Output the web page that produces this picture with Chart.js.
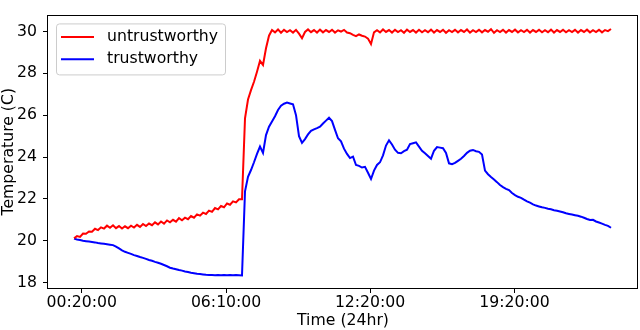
<!DOCTYPE html>
<html>
<head>
<meta charset="utf-8">
<script src="https://cdn.jsdelivr.net/npm/chart.js@4.4.1/dist/chart.umd.min.js"></script>
<style>
  body { margin: 0; background: #fff; }
  canvas { display: block; }
</style>
</head>
<body>
<canvas id="temp-chart" width="640" height="330"></canvas>
<script>
// Series labels
const seriesNames = ['untrustworthy', 'trustworthy'];

// Readings, one every sample (samples are evenly spaced on the x axis)
const untrustworthy = [
  20.12, 20.22, 20.18, 20.34, 20.33, 20.44, 20.43, 20.57, 20.51, 20.64,
  20.58, 20.72, 20.62, 20.74, 20.60, 20.70, 20.58, 20.69, 20.60, 20.72,
  20.63, 20.76, 20.66, 20.80, 20.70, 20.82, 20.74, 20.88, 20.78, 20.92,
  20.82, 20.97, 20.88, 21.00, 20.91, 21.08, 20.98, 21.10, 21.03, 21.18,
  21.10, 21.26, 21.20, 21.34, 21.28, 21.44, 21.38, 21.56, 21.50, 21.66,
  21.60, 21.78, 21.72, 21.88, 21.83, 21.98, 21.98, 25.85, 26.75, 27.20,
  27.60, 28.08, 28.60, 28.40, 29.20, 29.80, 30.07, 29.96, 30.10, 29.94,
  30.08, 29.97, 30.06, 29.95, 30.08, 29.90, 29.68, 29.98, 30.10, 29.97,
  30.07, 29.95, 30.09, 29.96, 30.07, 29.98, 30.08, 29.95, 30.06, 30.00,
  30.08, 29.95, 29.92, 29.84, 29.78, 29.86, 29.80, 29.76, 29.66, 29.40,
  29.96, 30.06, 29.96, 30.10, 29.98, 30.07, 29.95, 30.08, 29.97, 30.06,
  29.94, 30.09, 29.98, 30.07, 29.95, 30.08, 29.96, 30.06, 29.97, 30.09,
  29.95, 30.07, 29.98, 30.08, 29.94, 30.06, 29.97, 30.08, 29.96, 30.07,
  29.98, 30.10, 29.95, 30.06, 29.97, 30.08, 29.96, 30.07, 29.99, 30.11,
  29.94, 30.06, 29.97, 30.08, 29.95, 30.07, 29.98, 30.09, 29.96, 30.06,
  29.97, 30.08, 29.95, 30.07, 29.98, 30.08, 29.96, 30.06, 29.97, 30.09,
  29.95, 30.07, 29.98, 30.08, 29.96, 30.06, 29.97, 30.08, 29.95, 30.07,
  29.98, 30.09, 29.96, 30.06, 29.97, 30.08, 29.96, 30.07, 30.02, 30.12
];

const trustworthy = [
  20.10, 20.06, 20.03, 20.00, 19.98, 19.96, 19.94, 19.92, 19.89, 19.87,
  19.85, 19.83, 19.81, 19.79, 19.72, 19.63, 19.54, 19.47, 19.42, 19.37,
  19.31, 19.27, 19.22, 19.18, 19.13, 19.08, 19.04, 18.99, 18.95, 18.90,
  18.84, 18.78, 18.71, 18.67, 18.64, 18.60, 18.57, 18.53, 18.50, 18.47,
  18.45, 18.42, 18.41, 18.39, 18.37, 18.36, 18.36, 18.35, 18.36, 18.35,
  18.36, 18.35, 18.36, 18.35, 18.36, 18.35, 18.34, 22.36, 23.05, 23.38,
  23.75, 24.15, 24.50, 24.20, 25.05, 25.45, 25.70, 25.95, 26.25, 26.45,
  26.55, 26.60, 26.56, 26.52, 26.00, 25.00, 24.68, 24.86, 25.08, 25.25,
  25.32, 25.38, 25.45, 25.60, 25.74, 25.88, 25.72, 25.30, 24.90, 24.75,
  24.40, 24.15, 23.95, 24.02, 23.62, 23.58, 23.50, 23.53, 23.25, 22.95,
  23.35, 23.62, 23.75, 24.08, 24.55, 24.80, 24.60, 24.35, 24.20, 24.18,
  24.28, 24.35, 24.62, 24.66, 24.70, 24.50, 24.30, 24.18, 24.05, 23.92,
  24.30, 24.48, 24.45, 24.42, 24.20, 23.70, 23.66, 23.72, 23.82, 23.92,
  24.05, 24.20, 24.30, 24.34, 24.28, 24.25, 24.12, 23.35, 23.18, 23.05,
  22.93, 22.80, 22.66, 22.56, 22.48, 22.42, 22.28, 22.18, 22.10, 22.05,
  21.96, 21.88, 21.82, 21.74, 21.68, 21.64, 21.60, 21.57, 21.53, 21.50,
  21.46, 21.43, 21.40, 21.36, 21.31, 21.28, 21.25, 21.22, 21.19, 21.15,
  21.10, 21.04, 20.99, 21.00, 20.92, 20.87, 20.82, 20.76, 20.71, 20.62
];

// Time tick labels and the sample positions they sit on
const tickLabels = ['00:20:00', '06:10:00', '12:20:00', '19:20:00'];
const tickPos = [2.6, 50.7, 98.7, 146.8];
const yTicks = [18, 20, 22, 24, 26, 28, 30];

const FONT = "'DejaVu Sans', sans-serif";

function toPoints(values) {
  return values.map((v, i) => ({ x: i, y: v }));
}

// Box around the plot (all four sides)
const frame = {
  id: 'frame',
  afterDraw(chart) {
    const { ctx, chartArea: a } = chart;
    ctx.save();
    ctx.strokeStyle = '#000';
    ctx.lineWidth = 1;
    ctx.strokeRect(Math.round(a.left) - 0.5, Math.round(a.top) + 0.5,
      Math.round(a.right - a.left), Math.round(a.bottom - a.top));
    ctx.restore();
  }
};

// Legend drawn inside the plot, top left, matplotlib style
const insideLegend = {
  id: 'insideLegend',
  afterDraw(chart) {
    const { ctx, chartArea: a } = chart;
    const x0 = a.left + 8, y0 = a.top + 8, w = 169, h = 51, r = 3;
    ctx.save();
    ctx.fillStyle = 'rgba(255,255,255,0.8)';
    ctx.strokeStyle = '#cccccc';
    ctx.lineWidth = 1;
    ctx.beginPath();
    ctx.roundRect(x0 + 0.5, y0 + 0.5, w, h, r);
    ctx.fill();
    ctx.stroke();
    ctx.font = '15.7px ' + FONT;
    ctx.textBaseline = 'middle';
    chart.data.datasets.forEach((ds, k) => {
      const y = y0 + 13.5 + k * 22.4;
      ctx.strokeStyle = ds.borderColor;
      ctx.lineWidth = 2;
      ctx.beginPath();
      ctx.moveTo(x0 + 5, y);
      ctx.lineTo(x0 + 38, y);
      ctx.stroke();
      ctx.fillStyle = '#000';
      ctx.fillText(ds.label, x0 + 51, y);
    });
    ctx.restore();
  }
};

const ctx = document.getElementById('temp-chart').getContext('2d');
new Chart(ctx, {
  type: 'line',
  data: {
    datasets: [
      {
        label: seriesNames[0],
        data: toPoints(untrustworthy),
        borderColor: '#ff0000',
        borderWidth: 2,
        pointRadius: 0,
        tension: 0,
      },
      {
        label: seriesNames[1],
        data: toPoints(trustworthy),
        borderColor: '#0000ff',
        borderWidth: 2,
        pointRadius: 0,
        tension: 0,
      },
    ],
  },
  options: {
    responsive: false,
    animation: false,
    layout: { padding: { top: 2, right: 2, left: 0, bottom: 0 } },
    plugins: {
      legend: { display: false },
      tooltip: { enabled: false },
    },
    scales: {
      x: {
        type: 'linear',
        min: -8.67,
        max: 188,
        afterFit: (scale) => { scale.height = 42; },
        afterBuildTicks: (scale) => {
          scale.ticks = tickPos.map((v) => ({ value: v }));
        },
        grid: {
          drawOnChartArea: false,
          drawTicks: true,
          tickLength: 5,
          color: '#000',
        },
        border: { display: false },
        ticks: {
          color: '#000',
          font: { family: FONT, size: 15.7 },
          padding: 1,
          maxRotation: 0,
          autoSkip: false,
          callback: (value, index) => tickLabels[index],
        },
        title: {
          display: true,
          text: 'Time (24hr)',
          color: '#000',
          font: { family: FONT, size: 15.7 },
          padding: { top: 0, bottom: 0 },
        },
      },
      y: {
        min: 17.74,
        max: 30.77,
        afterFit: (scale) => { scale.width = 48; },
        afterBuildTicks: (scale) => {
          scale.ticks = yTicks.map((v) => ({ value: v }));
        },
        grid: {
          drawOnChartArea: false,
          drawTicks: true,
          tickLength: 5,
          color: '#000',
        },
        border: { display: false },
        ticks: {
          color: '#000',
          font: { family: FONT, size: 15.7 },
          padding: 6,
        },
        title: {
          display: true,
          text: 'Temperature (C)',
          color: '#000',
          font: { family: FONT, size: 15.7 },
          padding: { top: 0, bottom: 0 },
        },
      },
    },
  },
  plugins: [frame, insideLegend],
});
</script>
</body>
</html>
